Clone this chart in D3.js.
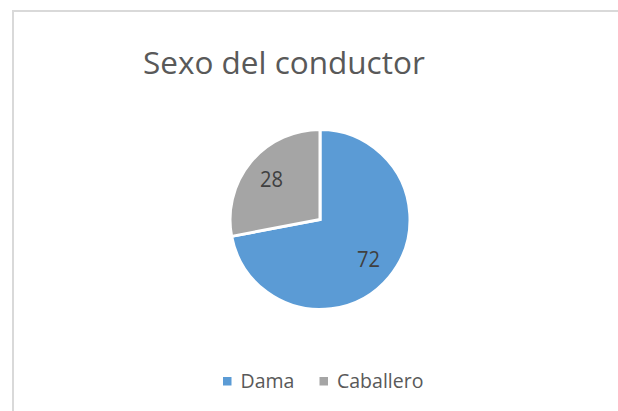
<!DOCTYPE html>
<html>
<head>
<meta charset="utf-8">
<script src="https://cdn.jsdelivr.net/npm/d3@7"></script>
<style>
  html, body { margin: 0; padding: 0; background: #fff; }
  svg { display: block; }
  text { font-family: "Open Sans", "Noto Sans", sans-serif; }
</style>
</head>
<body>
<svg id="chart"></svg>
<script>
let width = 618;
let height = 411;

// chart data
let categories = ['Dama', 'Caballero'];
let values = [72, 28];
let colors = ['#5b9bd5', '#a5a5a5'];
let title = 'Sexo del conductor';

let center = {'x': 320, 'y': 219.5};
let radius = 90;

let svg = d3.select('#chart')
    .attr('width', width)
    .attr('height', height);

// chart area border (only top and left visible in the crop)
svg.append('path')
    .attr('d', `M13,${height} L13,11 L${width},11`)
    .attr('fill', 'none')
    .attr('stroke', '#d9d9d9')
    .attr('stroke-width', 2);

// the original font is narrower than Open Sans: keep the height, squeeze the width
function squeeze(sel, size, targetWidth) {
    sel.style('font-size', size + 'px');
    let w = sel.node().getComputedTextLength();
    if (w > targetWidth) {
        sel.attr('textLength', targetWidth).attr('lengthAdjust', 'spacingAndGlyphs');
    }
}

let titleText = svg.append('text')
    .attr('x', 143)
    .attr('y', 73.5)
    .attr('fill', '#595959')
    .text(title);
squeeze(titleText, 31.5, 283);

let colorScale = d3.scaleOrdinal()
    .domain(categories)
    .range(colors);

let pie = d3.pie()
    .sort(null)
    .value(d => d.value);

let data = categories.map((c, i) => ({'name': c, 'value': values[i]}));
let arcs = pie(data);

let arc = d3.arc()
    .innerRadius(0)
    .outerRadius(radius);

let labelArc = d3.arc()
    .innerRadius(63)
    .outerRadius(63);

let g = svg.append('g')
    .attr('transform', `translate(${center.x}, ${center.y})`);

g.selectAll('path')
    .data(arcs)
    .join('path')
    .attr('d', arc)
    .attr('fill', d => colorScale(d.data.name))
    .attr('stroke', '#fff')
    .attr('stroke-width', 3)
    .attr('stroke-linejoin', 'miter');

g.selectAll('text.label')
    .data(arcs)
    .join('text')
    .attr('class', 'label')
    .attr('transform', d => `translate(${labelArc.centroid(d)})`)
    .attr('text-anchor', 'middle')
    .attr('dy', '0.36em')
    .attr('fill', '#404040')
    .text(d => d.data.value)
    .each(function () { squeeze(d3.select(this), 21.5, 23); });

// legend
let legendX = [223, 319.5];
let legendWidths = [54.5, 91];
let legend = svg.append('g');

let items = legend.selectAll('g')
    .data(categories)
    .join('g')
    .attr('transform', (d, i) => `translate(${legendX[i]}, 377)`);

items.append('rect')
    .attr('width', 8.5)
    .attr('height', 8.5)
    .attr('fill', d => colorScale(d));

items.append('text')
    .attr('x', 17.5)
    .attr('y', 11)
    .attr('fill', '#595959')
    .text(d => d)
    .each(function (d, i) { squeeze(d3.select(this), 19.5, legendWidths[i]); });
</script>
</body>
</html>
